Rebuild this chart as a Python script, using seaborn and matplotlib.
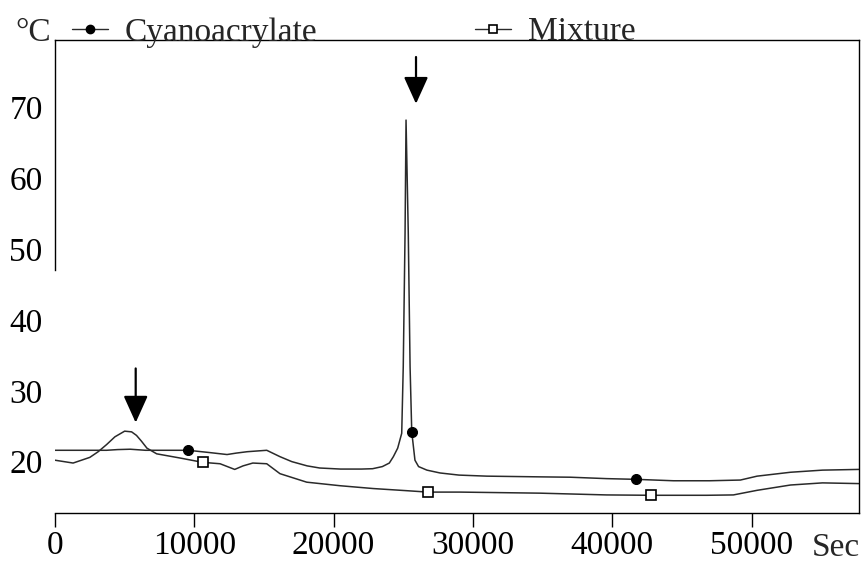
import matplotlib
matplotlib.use("Agg")
import numpy as np
import pandas as pd
import seaborn as sns
import matplotlib.pyplot as plt
from matplotlib.lines import Line2D

# ---------------- data ----------------
cyano_time = [0, 2000, 3700, 4500, 5400, 6500, 8000, 9550, 11000, 12350, 13000,
              13800, 15200, 16150, 17000, 18100, 19000, 20500, 22000, 22800, 23500,
              24000, 24290, 24600, 24890, 25000, 25130, 25200, 25360, 25490, 25610,
              25840, 26100, 26700, 27640, 29000, 31000, 34800, 37000, 39600, 41700,
              44400, 47000, 49200, 50400, 52800, 55100, 57700]
cyano_temp = [21.6, 21.6, 21.6, 21.7, 21.75, 21.6, 21.6, 21.6, 21.3, 21.0, 21.2,
              21.4, 21.6, 20.7, 20.0, 19.4, 19.1, 18.95, 18.95, 19.0, 19.3,
              19.8, 20.7, 21.9, 24.0, 33.4, 52.3, 68.2, 52.3, 33.4, 24.2,
              20.2, 19.3, 18.8, 18.4, 18.1, 17.95, 17.85, 17.8, 17.6, 17.5,
              17.3, 17.3, 17.4, 17.95, 18.5, 18.8, 18.9]
cyano_marker_time = [9550, 25610, 41700]

mix_time = [0, 1300, 2500, 3100, 3700, 4300, 5000, 5500, 5850, 6200, 6600, 7300,
            9000, 10600, 11850, 12900, 13500, 14200, 15200, 16150, 18070, 20460,
            22850, 25240, 26760, 29070, 34800, 39600, 42760, 46800, 48700, 50400,
            52800, 55100, 57700]
mix_temp = [20.2, 19.8, 20.6, 21.4, 22.4, 23.5, 24.3, 24.2, 23.7, 22.9, 21.9, 21.1,
            20.5, 19.9, 19.7, 18.9, 19.4, 19.8, 19.7, 18.3, 17.1, 16.6,
            16.2, 15.9, 15.7, 15.7, 15.55, 15.3, 15.25, 15.25, 15.3, 15.95,
            16.7, 17.0, 16.9]
mix_marker_time = [10600, 26760, 42760]

series_labels = ["Cyanoacrylate", "Mixture"]
x_ticks = [0, 10000, 20000, 30000, 40000, 50000]
y_ticks = [20, 30, 40, 50, 60, 70]

arrow_time = [5793, 25916]
arrow_tip = [25.5, 70.5]
arrow_tail = [33.15, 77.1]

# ---------------- figure ----------------
sns.set_theme(style="white")
plt.rcParams["font.family"] = ["Liberation Serif", "DejaVu Serif"]
FS = 24

fig = plt.figure(figsize=(8.62, 5.62), dpi=100)
ax = fig.add_axes([55 / 862, 1 - 513 / 562, (859 - 55) / 862, (513 - 40) / 562])

line_col = "#2a2a2a"
df_c = pd.DataFrame({"time": cyano_time, "temp": cyano_temp})
df_m = pd.DataFrame({"time": mix_time, "temp": mix_temp})
idx_c = [cyano_time.index(t) for t in cyano_marker_time]
idx_m = [mix_time.index(t) for t in mix_marker_time]

sns.lineplot(data=df_c, x="time", y="temp", ax=ax, estimator=None, sort=False,
             color=line_col, linewidth=1.1, marker="o", markevery=idx_c,
             markersize=7.2, markerfacecolor="black", markeredgecolor="black")
sns.lineplot(data=df_m, x="time", y="temp", ax=ax, estimator=None, sort=False,
             color=line_col, linewidth=1.1, marker="s", markevery=idx_m,
             markersize=6.5, markerfacecolor="white", markeredgecolor="black",
             markeredgewidth=1.2)

ax.set_xlim(0, 57717)
ax.set_ylim(12.75, 79.5)
ax.set_xlabel("")
ax.set_ylabel("")
ax.set_xticks(x_ticks)
ax.set_yticks(y_ticks)
ax.set_xticklabels([str(t) for t in x_ticks])
ax.set_yticklabels([str(t) for t in y_ticks])
ax.tick_params(axis="x", bottom=True, direction="out", length=10, width=1.0,
               color="black", pad=2.5, labelsize=FS, labelcolor="black")
ax.tick_params(axis="y", left=False, length=0, pad=8.9, labelsize=FS,
               labelcolor="black")
for s in ax.spines.values():
    s.set_color("black")
    s.set_linewidth(1.0)
ax.spines["left"].set_bounds(47.1, 79.5)

for xt, tip, tail in zip(arrow_time, arrow_tip, arrow_tail):
    ax.annotate("", xy=(xt, tip), xytext=(xt, tail),
                arrowprops=dict(arrowstyle="-|>,head_length=1.66,head_width=0.75",
                                mutation_scale=10, lw=1.6, color="black",
                                shrinkA=0, shrinkB=0))

handles = [
    Line2D([], [], color=line_col, lw=1.0, marker="o", markersize=6,
           markerfacecolor="black", markeredgecolor="black"),
    Line2D([], [], color=line_col, lw=1.0, marker="s", markersize=5.5,
           markerfacecolor="white", markeredgecolor="black", markeredgewidth=1.2),
]
fig.legend(handles, series_labels, ncol=2, loc="lower left",
           bbox_to_anchor=(72 / 862, 1 - 47.5 / 562), bbox_transform=fig.transFigure,
           frameon=False, fontsize=FS, handlelength=1.08, handletextpad=0.5,
           columnspacing=4.74, borderpad=0, borderaxespad=0, numpoints=1)

fig.text(15 / 862, 1 - 41 / 562, "°C", fontsize=FS, ha="left", va="baseline")
fig.text(860 / 862, 1 - 556 / 562, "Sec", fontsize=FS, ha="right", va="baseline")

fig.savefig("out.png", dpi=100)
